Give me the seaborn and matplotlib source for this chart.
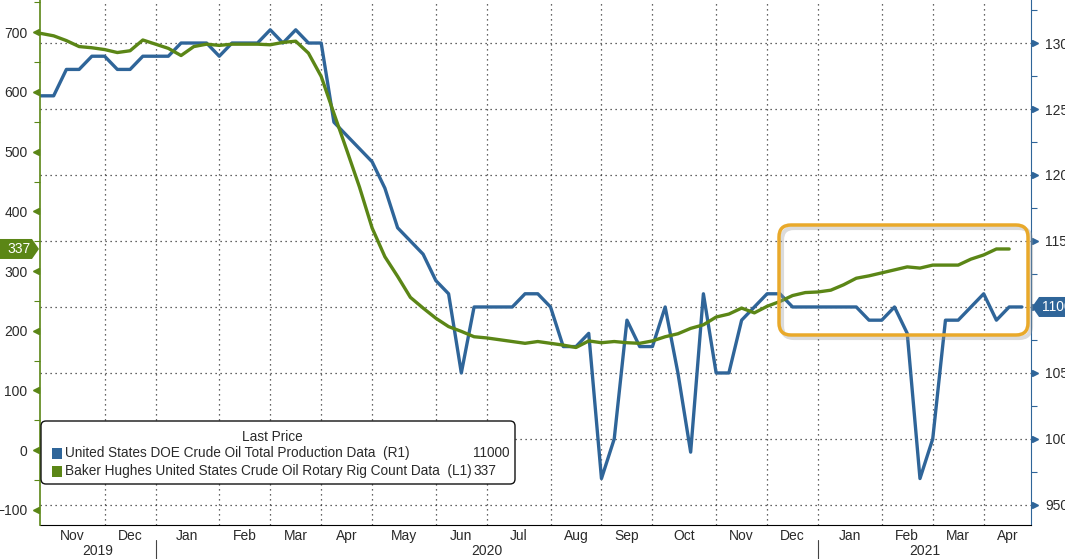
import pandas as pd
import seaborn as sns
import matplotlib.pyplot as plt
import matplotlib.dates as mdates
import matplotlib.transforms as mtransforms
from matplotlib.patches import FancyBboxPatch, Rectangle, Polygon
from matplotlib.ticker import MultipleLocator, FixedLocator, NullFormatter, FuncFormatter

# weekly data, Fridays from 1 Nov 2019
week_start = '2019-11-01'
production = [12600, 12600, 12800, 12800, 12900, 12900, 12800, 12800, 12900, 12900,
              12900, 13000, 13000, 13000, 12900, 13000, 13000, 13000, 13100, 13000,
              13100, 13000, 13000, 12400, 12300, 12200, 12100, 11900, 11600, 11500,
              11400, 11200, 11100, 10500, 11000, 11000, 11000, 11000, 11100, 11100,
              11000, 10700, 10700, 10800, 9700, 10000, 10900, 10700, 10700, 11000,
              10500, 9900, 11100, 10500, 10500, 10900, 11000, 11100, 11100, 11000,
              11000, 11000, 11000, 11000, 11000, 10900, 10900, 11000, 10800, 9700,
              10000, 10900, 10900, 11000, 11100, 10900, 11000, 11000]
rig_count = [698, 694, 686, 676, 674, 671, 666, 669, 687, 680,
             673, 661, 676, 680, 678, 680, 680, 680, 679, 683,
             685, 665, 626, 564, 503, 441, 372, 324, 291, 256,
             238, 221, 207, 199, 190, 188, 185, 182, 179, 182,
             179, 176, 172, 183, 180, 182, 180, 179, 183, 190,
             195, 204, 210, 223, 228, 238, 230, 241, 249, 259,
             264, 265, 268, 277, 288, 292, 297, 302, 307, 305,
             310, 310, 310, 320, 327, 337, 337]
production_label = 'United States DOE Crude Oil Total Production Data  (R1)'
rig_label = 'Baker Hughes United States Crude Oil Rotary Rig Count Data  (L1)'
legend_title = 'Last Price'
right_ticks = [9500, 10000, 10500, 11000, 11500, 12000, 12500, 13000]
left_ticks = [-100, 0, 100, 200, 300, 400, 500, 600, 700]

weeks = pd.date_range(week_start, periods=len(production), freq='W-FRI')
prod_df = pd.DataFrame({'date': weeks, 'value': production})
rig_df = pd.DataFrame({'date': weeks[:len(rig_count)], 'value': rig_count})

BLUE = '#2f6599'
GREEN = '#5b8616'
ORANGE = '#e9a92a'
TXT = '#2a2a2a'

sns.set_style('white')
plt.rcParams['font.family'] = ['Liberation Sans', 'DejaVu Sans']

W, H = 1065, 559
AX_W, AX_H = 991, 525
fig = plt.figure(figsize=(W / 100, H / 100), dpi=100)
ax = fig.add_axes([40 / W, 34 / H, AX_W / W, AX_H / H])

sns.lineplot(data=prod_df, x='date', y='value', ax=ax, color=BLUE, lw=2.4)
ax_l = ax.twinx()
sns.lineplot(data=rig_df, x='date', y='value', ax=ax_l, color=GREEN, lw=2.4)
ax.yaxis.tick_right()
ax_l.yaxis.tick_left()
for a in (ax, ax_l):
    a.set_xlabel('')
    a.set_ylabel('')

x0 = weeks[0] - pd.Timedelta(days=0.5)
x1 = weeks[0] + pd.Timedelta(days=544)
r_lim = (9348, 13326)
l_lim = (-125.3, 754)

# x axis: ticks at first week of each month, labels centred between them
month_starts = list(weeks[weeks.day <= 7][1:])
edges = [x0] + month_starts + [x1]
mids = [a + (b - a) / 2 for a, b in zip(edges[:-1], edges[1:])]
ax.xaxis.set_major_locator(FixedLocator(mdates.date2num(month_starts)))
ax.xaxis.set_major_formatter(NullFormatter())
ax.xaxis.set_minor_locator(FixedLocator(mdates.date2num(mids)))
ax.xaxis.set_minor_formatter(mdates.DateFormatter('%b'))
ax.tick_params(axis='x', which='major', length=5, width=0.8, color='black', direction='out')
ax.tick_params(axis='x', which='minor', length=0, pad=3, labelsize=10, labelcolor=TXT)

# right axis (production); the last-value tag sits over its own tick label
ax.set_yticks(right_ticks)
ax.yaxis.set_major_formatter(FuncFormatter(lambda v, p: '' if v == production[-1] else f'{v:.0f}'))
ax.yaxis.set_minor_locator(MultipleLocator(250))
ax.tick_params(axis='y', which='major', length=0, pad=10, labelsize=10, labelcolor=TXT)
ax.tick_params(axis='y', which='minor', length=4, width=0.8, color=BLUE, direction='out')

# left axis (rigs)
ax_l.set_yticks(left_ticks)
ax_l.yaxis.set_minor_locator(MultipleLocator(50))
ax_l.tick_params(axis='y', which='major', length=0, pad=9, labelsize=10, labelcolor=TXT)
ax_l.tick_params(axis='y', which='minor', length=4, width=0.8, color=GREEN, direction='out')

ax.grid(True, which='major', axis='both', linestyle=(0, (1, 3)), color='#333333', lw=0.9)

for s in ('top', 'left'):
    ax.spines[s].set_visible(False)
ax.spines['right'].set_color(BLUE)
ax.spines['bottom'].set_color('black')
for s in ('top', 'right', 'bottom'):
    ax_l.spines[s].set_visible(False)
ax_l.spines['left'].set_color(GREEN)
ax_l.spines['left'].set_linewidth(1.2)

tr_r = mtransforms.blended_transform_factory(ax.transAxes, ax.transData)
tr_l = mtransforms.blended_transform_factory(ax_l.transAxes, ax_l.transData)
ax.plot([1.004] * len(right_ticks), right_ticks, ls='', marker='>', ms=5,
        color=BLUE, transform=tr_r, clip_on=False)
ax_l.plot([-0.004] * len(left_ticks), left_ticks, ls='', marker='<', ms=5,
          color=GREEN, transform=tr_l, clip_on=False)

ax.set_xlim(x0, x1)
ax.set_ylim(*r_lim)
ax_l.set_ylim(*l_lim)

# last value tags (pentagon pointing at the axis, 20 px high)
def px_x(p):
    return p / AX_W

hl = 10 * (l_lim[1] - l_lim[0]) / AX_H
v = rig_count[-1]
ax_l.add_patch(Polygon([(px_x(-40), v - hl), (px_x(-8), v - hl), (px_x(-1), v),
                        (px_x(-8), v + hl), (px_x(-40), v + hl)],
                       closed=True, transform=tr_l, fc=GREEN, ec='none', clip_on=False, zorder=6))
ax_l.text(px_x(-21), v, f'{v}', transform=tr_l, ha='center', va='center',
          color='white', fontsize=10, clip_on=False, zorder=7)

hr = 10 * (r_lim[1] - r_lim[0]) / AX_H
v = production[-1]
ax.add_patch(Polygon([(1 + px_x(1), v), (1 + px_x(8), v - hr), (1 + px_x(60), v - hr),
                      (1 + px_x(60), v + hr), (1 + px_x(8), v + hr)],
                     closed=True, transform=tr_r, fc=BLUE, ec='none', clip_on=False, zorder=6))
ax.text(1 + px_x(11), v, f'{v}', transform=tr_r, ha='left', va='center',
        color='white', fontsize=10, clip_on=False, zorder=7)

# year row
tr_x = mtransforms.blended_transform_factory(ax.transData, ax.transAxes)
jan_ticks = [d for d in month_starts if d.month == 1]
year_edges = [x0] + jan_ticks + [x1]
for yr, a, b in zip(['2019', '2020', '2021'], year_edges[:-1], year_edges[1:]):
    ax.text(mdates.date2num(a + (b - a) / 2), -0.05, yr, transform=tr_x,
            ha='center', va='center', fontsize=10, color=TXT)
for d in jan_ticks:
    xd = mdates.date2num(d)
    ax.plot([xd, xd], [-0.029, -0.07], transform=tr_x, color='#444444', lw=0.8, clip_on=False)

ident = mtransforms.IdentityTransform()

# highlight box
fig.add_artist(FancyBboxPatch((782, H - 338), 249, 110, boxstyle='round,pad=0,rounding_size=12',
                              transform=ident, fc='none', ec='#999999', lw=3, alpha=0.35, zorder=2))
fig.add_artist(FancyBboxPatch((779, H - 335), 249, 110, boxstyle='round,pad=0,rounding_size=12',
                              transform=ident, fc='none', ec=ORANGE, lw=2.5, zorder=3))

# legend
fig.add_artist(FancyBboxPatch((41, H - 484), 474, 63, boxstyle='round,pad=0,rounding_size=5',
                              transform=ident, fc='white', ec='#111111', lw=1, zorder=4))
fig.add_artist(Rectangle((51.5, H - 458.5), 10.5, 10.5, transform=ident, fc=BLUE, ec='none', zorder=5))
fig.add_artist(Rectangle((51.5, H - 476.5), 10.5, 10.5, transform=ident, fc=GREEN, ec='none', zorder=5))
fs = 9.8
fig.text(272 / W, 1 - 437 / H, legend_title, ha='center', va='center', fontsize=fs, color=TXT, zorder=6)
fig.text(65 / W, 1 - 453.4 / H, production_label, ha='left', va='center', fontsize=fs, color=TXT, zorder=6)
fig.text(509 / W, 1 - 453.4 / H, f'{production[-1]}', ha='right', va='center', fontsize=fs, color=TXT, zorder=6)
fig.text(65 / W, 1 - 471.3 / H, rig_label, ha='left', va='center', fontsize=fs, color=TXT, zorder=6)
fig.text(496 / W, 1 - 471.3 / H, f'{rig_count[-1]}', ha='right', va='center', fontsize=fs, color=TXT, zorder=6)

fig.savefig('out.png', dpi=100)
